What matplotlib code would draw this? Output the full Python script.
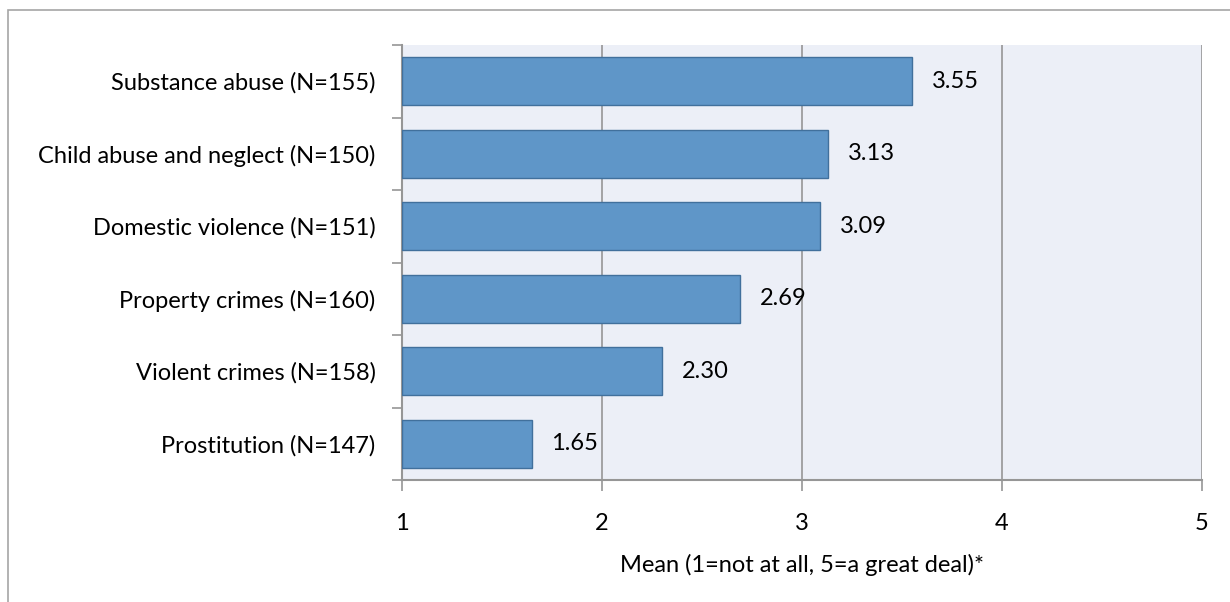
import numpy as np
import matplotlib.pyplot as plt
from matplotlib.patches import Rectangle

plt.rcParams['font.family'] = ['Lato', 'DejaVu Sans']

categories = [
    'Substance abuse (N=155)',
    'Child abuse and neglect (N=150)',
    'Domestic violence (N=151)',
    'Property crimes (N=160)',
    'Violent crimes (N=158)',
    'Prostitution (N=147)',
]
means = [3.55, 3.13, 3.09, 2.69, 2.30, 1.65]
xTicks = [1, 2, 3, 4, 5]
xLabel = 'Mean (1=not at all, 5=a great deal)*'

fs = 17

fig = plt.figure(figsize=(12.3, 6.02), dpi=100)
ax = fig.add_axes([402 / 1230, 1 - 480 / 602, 800 / 1230, 435 / 602])

# outer chart border (right and bottom run off the picture)
fig.patches.append(Rectangle((8 / 1230, -0.1), 1.2, 1 - 10 / 602 + 0.1,
                             transform=fig.transFigure, fill=False,
                             edgecolor='#a6a6a6', linewidth=1.2, zorder=0))

ax.set_facecolor('#eceff7')
y = np.arange(len(categories))[::-1]
ax.barh(y, np.array(means) - 1, left=1, height=0.66, color='#5f96c8',
        edgecolor='#41709c', linewidth=1.0, zorder=3)

for yi, m in zip(y, means):
    ax.annotate(f'{m:.2f}', xy=(m, yi), xytext=(14, 0), textcoords='offset points',
                va='center', ha='left', fontsize=fs, zorder=4)

ax.set_xlim(1, 5)
ax.set_ylim(-0.5, len(categories) - 0.5)
ax.set_xticks(xTicks)
ax.set_xticklabels([str(t) for t in xTicks], fontsize=fs)
ax.set_yticks(y)
ax.set_yticklabels(categories, fontsize=fs)
ax.set_yticks(np.arange(-0.5, len(categories), 1), minor=True)
ax.tick_params(axis='y', which='major', length=0, pad=19)
ax.tick_params(axis='y', which='minor', length=7, width=1.2, color='#969696', direction='out')
ax.tick_params(axis='x', length=8, width=1.2, color='#969696', pad=16)
ax.grid(axis='x', color='#969696', linewidth=1.2, zorder=1)
ax.set_axisbelow(True)

for s in ['top', 'right']:
    ax.spines[s].set_visible(False)
for s in ['left', 'bottom']:
    ax.spines[s].set_color('#969696')
    ax.spines[s].set_linewidth(1.5)

ax.set_xlabel(xLabel, fontsize=fs, labelpad=14)

plt.savefig('out.png', dpi=100, facecolor='w')
